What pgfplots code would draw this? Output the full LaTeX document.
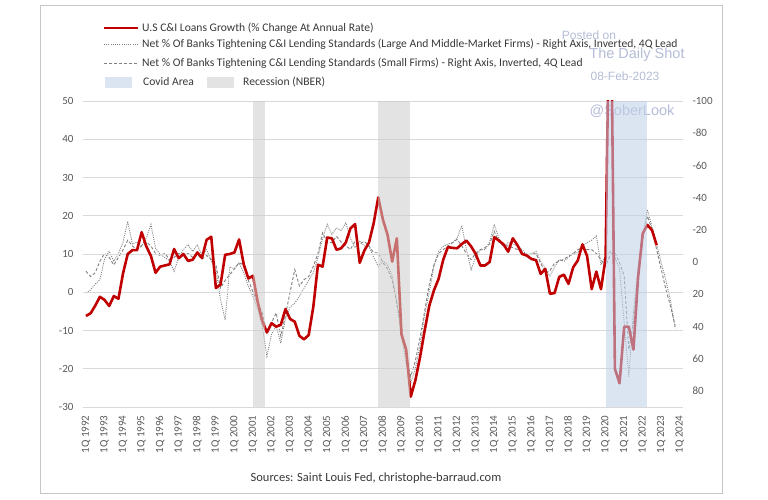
\documentclass[border=0pt]{standalone}
\usepackage{pgfplots}
\pgfplotsset{compat=1.18}
\usepackage{pgfplotstable}
\usepackage{fontspec}
\setmainfont{Carlito}
\newfontfamily\wmfont{Liberation Sans}
\definecolor{cired}{RGB}{192,0,0}
\definecolor{tsgray}{RGB}{89,89,89}
\definecolor{gridgray}{RGB}{217,217,217}
\definecolor{covidblue}{RGB}{190,208,232}
\definecolor{recgray}{RGB}{204,204,204}
\definecolor{covidleg}{RGB}{219,229,242}
\definecolor{recleg}{RGB}{227,227,227}
\definecolor{wm}{RGB}{180,188,214}
\definecolor{txt}{RGB}{56,56,56}
\definecolor{serg}{RGB}{128,128,128}

\pgfplotstableread{
t red dot dash
1992.00 -6.2 19.2 5.7
1992.25 -5.5 17.3 9.0
1992.50 -3.5 13.7 6.6
1992.75 -1.2 10.9 -0.5
1993.00 -2.0 -1.7 -5.3
1993.25 -3.6 -6.7 -2.9
1993.50 -1.0 -0.5 1.8
1993.75 -1.7 -5.3 -2.9
1994.00 5.0 -12.4 -7.7
1994.25 10.0 -25.3 -13.6
1994.50 11.0 -11.2 -10.0
1994.75 11.0 -12.4 -7.7
1995.00 15.7 -10.0 -10.0
1995.25 12.0 -14.8 -12.4
1995.50 9.5 -23.4 -10.0
1995.75 5.1 -8.6 -5.3
1996.00 6.7 -4.8 -4.1
1996.25 7.0 -2.9 -5.3
1996.50 7.3 -0.8 -1.7
1996.75 11.3 5.7 -2.9
1997.00 8.9 -2.9 -5.3
1997.25 10.0 -7.7 -4.1
1997.50 8.2 -10.8 -5.3
1997.75 8.5 -6.5 -2.9
1998.00 10.4 -10.8 -4.8
1998.25 9.0 -4.1 -1.7
1998.50 13.7 -7.7 -4.1
1998.75 14.5 -0.5 -1.7
1999.00 1.1 4.2 1.8
1999.25 2.0 23.3 16.1
1999.50 9.8 35.9 11.4
1999.75 10.0 3.0 7.8
2000.00 10.4 4.2 4.2
2000.25 13.8 0.4 0.4
2000.50 7.3 6.6 1.8
2000.75 3.6 15.2 11.4
2001.00 4.3 21.4 18.5
2001.25 -2.5 29.2 25.6
2001.50 -7.5 39.9 31.6
2001.75 -10.5 58.5 44.0
2002.00 -8.1 44.7 37.5
2002.25 -9.0 39.9 31.6
2002.50 -8.5 50.4 46.1
2002.75 -4.4 35.2 32.8
2003.00 -7.0 28.0 18.5
2003.25 -7.7 25.4 4.7
2003.50 -11.4 21.4 14.9
2003.75 -12.3 16.1 10.9
2004.00 -11.2 11.4 9.0
2004.25 -3.8 6.6 2.6
2004.50 7.2 -2.9 -5.3
2004.75 6.7 -14.8 -18.1
2005.00 14.3 -23.4 -12.4
2005.25 14.1 -17.2 -12.0
2005.50 11.1 -21.2 -16.0
2005.75 11.5 -19.6 -12.4
2006.00 13.0 -24.3 -10.0
2006.25 16.7 -14.8 -7.9
2006.50 17.8 -8.9 -12.9
2006.75 7.7 -12.9 -11.2
2007.00 10.9 -10.0 -12.9
2007.25 13.0 -9.8 -10.0
2007.50 18.0 -2.9 -5.8
2007.75 24.8 2.6 -5.8
2008.00 19.0 -0.5 0.4
2008.25 15.0 1.8 4.2
2008.50 8.0 8.7 11.4
2008.75 14.1 25.4 25.6
2009.00 -11.0 46.1 42.3
2009.25 -15.0 62.7 56.6
2009.50 -27.3 75.1 71.1
2009.75 -23.0 66.1 61.3
2010.00 -17.0 51.8 47.0
2010.25 -10.0 32.8 30.4
2010.50 -3.5 18.5 13.7
2010.75 0.5 2.6 1.8
2011.00 3.5 -6.7 -5.3
2011.25 8.5 -9.8 -7.7
2011.50 11.8 -11.2 -10.0
2011.75 11.6 -12.0 -12.0
2012.00 11.5 -14.8 -14.1
2012.25 12.6 -22.7 -10.0
2012.50 13.5 -7.7 -5.3
2012.75 12.0 4.7 -1.5
2013.00 10.0 -2.9 -5.3
2013.25 7.0 -7.7 -7.7
2013.50 7.0 -7.7 -8.9
2013.75 7.9 -12.4 -11.2
2014.00 14.4 -23.4 -19.1
2014.25 13.5 -14.8 -12.4
2014.50 12.5 -9.8 -10.0
2014.75 10.6 -12.0 -10.0
2015.00 14.1 -11.2 -8.9
2015.25 12.3 -9.8 -7.7
2015.50 10.0 -7.7 -6.5
2015.75 9.6 -4.6 -4.1
2016.00 8.7 -5.3 -4.8
2016.25 8.4 -6.7 -5.3
2016.50 4.8 -0.5 0.7
2016.75 6.1 4.2 6.6
2017.00 -0.4 8.7 5.4
2017.25 -0.2 3.0 0.7
2017.50 4.0 -1.5 -0.5
2017.75 4.6 -0.5 -1.7
2018.00 2.2 -2.9 -3.6
2018.25 6.5 -5.3 -5.3
2018.50 8.3 -5.8 -7.7
2018.75 12.5 -9.8 -8.9
2019.00 9.5 -12.0 -7.7
2019.25 0.8 -13.6 -7.7
2019.50 5.4 -16.2 -5.3
2019.75 0.8 1.8 -1.5
2020.00 9.0 -4.1 2.6
2020.25 95.0 -6.5 -4.6
2020.50 -20.0 -2.9 -5.8
2020.75 -23.8 4.2 0.4
2021.00 -9.0 37.5 8.7
2021.25 -9.0 71.1 54.4
2021.50 -15.0 30.4 37.8
2021.75 4.0 4.2 8.7
2022.00 15.4 -16.0 -14.1
2022.25 17.6 -32.6 -28.6
2022.50 16.2 -21.9 -20.3
2022.75 12.3 -11.2 -7.7
2023.00 nan 0.7 4.7
2023.25 nan 11.4 17.1
2023.50 nan 24.4 27.5
2023.75 nan 41.1 39.9
}\data

\begin{document}
\begin{tikzpicture}[x=1bp,y=1bp]
\useasboundingbox (0,0) rectangle (768,500);
\draw[gray!45, line width=0.8bp] (40,7) rectangle (722,495);

% watermark
\node[font=\wmfont\fontsize{12bp}{14bp}\selectfont, text=wm] at (589,465) {Posted on};
\node[font=\wmfont\fontsize{14.5bp}{16bp}\selectfont, text=wm] at (637,445) {The Daily Shot};
\node[font=\wmfont\fontsize{12bp}{14bp}\selectfont, text=wm] at (625,424) {08-Feb-2023};
\node[font=\wmfont\fontsize{14.5bp}{16bp}\selectfont, text=wm] at (632,389) {@SoberLook};

% right axis: bank tightening standards (inverted)
\begin{axis}[
  at={(83bp,93bp)}, anchor=south west,
  width=600bp, height=306bp, scale only axis,
  xmin=1991.84, xmax=2024.17,
  ymin=-100, ymax=90, y dir=reverse,
  hide x axis, axis y line*=right,
  axis line style={draw=none}, major tick length=0pt,
  ytick={-100,-80,...,80},
  yticklabel style={font=\fontsize{11bp}{13bp}\selectfont, text=tsgray},
  yticklabel shift=6bp,
  /pgf/number format/assume math mode=true,
]
\addplot[serg, line width=0.9bp, dash pattern=on 1bp off 1.2bp] table[x=t, y=dot]{\data};
\addplot[serg, line width=0.9bp, dash pattern=on 3bp off 2bp] table[x=t, y=dash]{\data};
\end{axis}

% left axis: C&I loans growth
\begin{axis}[
  at={(83bp,93bp)}, anchor=south west,
  width=600bp, height=306bp, scale only axis,
  xmin=1991.84, xmax=2024.17,
  ymin=-30, ymax=50,
  axis y line*=left, axis x line*=bottom,
  axis line style={draw=none}, major tick length=0pt,
  ytick={-30,-20,...,50},
  ymajorgrids, grid style={gridgray, line width=0.8bp},
  xtick={1992,1993,...,2024},
  xticklabels={1Q 1992,1Q 1993,1Q 1994,1Q 1995,1Q 1996,1Q 1997,1Q 1998,1Q 1999,1Q 2000,1Q 2001,1Q 2002,1Q 2003,1Q 2004,1Q 2005,1Q 2006,1Q 2007,1Q 2008,1Q 2009,1Q 2010,1Q 2011,1Q 2012,1Q 2013,1Q 2014,1Q 2015,1Q 2016,1Q 2017,1Q 2018,1Q 2019,1Q 2020,1Q 2021,1Q 2022,1Q 2023,1Q 2024},
  xticklabel style={rotate=90, anchor=east, font=\fontsize{11bp}{13bp}\selectfont, text=tsgray},
  xticklabel shift=5bp,
  yticklabel style={font=\fontsize{11bp}{13bp}\selectfont, text=tsgray},
  yticklabel shift=6bp,
  /pgf/number format/assume math mode=true,
]
\addplot[cired, line width=2.6bp, line join=round] table[x=t, y=red]{\data};
\addplot[draw=none, fill=recgray, fill opacity=0.55] coordinates {(2001,-30) (2001,50) (2001.65,50) (2001.65,-30)} -- cycle;
\addplot[draw=none, fill=recgray, fill opacity=0.55] coordinates {(2007.75,-30) (2007.75,50) (2009.45,50) (2009.45,-30)} -- cycle;
\addplot[draw=none, fill=covidblue, fill opacity=0.55] coordinates {(2020,-30) (2020,50) (2022.25,50) (2022.25,-30)} -- cycle;
\end{axis}

% legend
\draw[cired, line width=2.6bp] (104,472) -- (138,472);
\node[anchor=west, inner sep=0, font=\fontsize{11.6bp}{13bp}\selectfont, text=txt] at (142,472) {U.S C\&I Loans Growth (\% Change At Annual Rate)};
\draw[serg, line width=0.9bp, dash pattern=on 1bp off 1.2bp] (104,456) -- (138,456);
\node[anchor=west, inner sep=0, font=\fontsize{11.6bp}{13bp}\selectfont, text=txt] at (142,456) {Net \% Of Banks Tightening C\&I Lending Standards (Large And Middle-Market Firms) - Right Axis, Inverted, 4Q Lead};
\draw[serg, line width=0.9bp, dash pattern=on 3bp off 2bp] (104,437) -- (138,437);
\node[anchor=west, inner sep=0, font=\fontsize{11.6bp}{13bp}\selectfont, text=txt] at (142,437) {Net \% Of Banks Tightening C\&I Lending Standards (Small Firms) - Right Axis, Inverted, 4Q Lead};
\fill[covidleg] (105,412) rectangle (132,423);
\node[anchor=west, inner sep=0, font=\fontsize{11.6bp}{13bp}\selectfont, text=txt] at (143,418) {Covid Area};
\fill[recleg] (207,412) rectangle (234,423);
\node[anchor=west, inner sep=0, font=\fontsize{11.6bp}{13bp}\selectfont, text=txt] at (243,418) {Recession (NBER)};

% source
\node[font=\fontsize{12.5bp}{14bp}\selectfont, text=txt] at (376,22) {Sources: Saint Louis Fed, christophe-barraud.com};
\end{tikzpicture}
\end{document}
